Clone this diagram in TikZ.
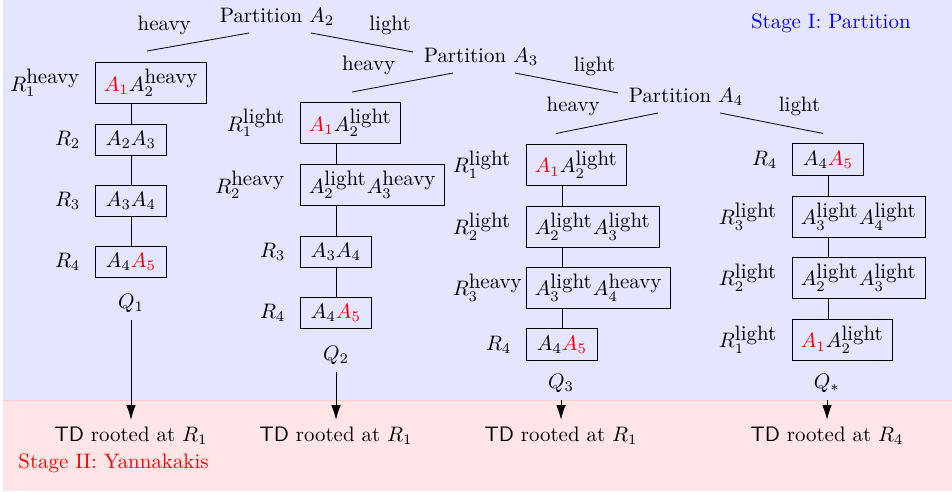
\documentclass[tikz,border=0pt]{standalone}
\usepackage{amsmath}
\usetikzlibrary{positioning,arrows.meta}
\newcommand{\keyattr}[1]{{\color{red}#1}}
\newcommand{\hvy}{\smash[b]{\mbox{heavy}}}
\newcommand{\lgt}{\smash[b]{\mbox{light}}}

\begin{document}
\begin{tikzpicture}[x=0.478pt,y=-0.478pt,node distance=3.5pt,
    rel/.style={draw,anchor=west,inner xsep=4pt,inner ysep=3.3pt,minimum width=34pt},
    stage/.style={font=\normalsize},
    toyan/.style={-{Latex[length=7pt,width=4.5pt]}}]
    \useasboundingbox (0,0) rectangle (952,491);
    \fill[blue!10] (3,0) rectangle (952,400);
    \fill[red!10] (3,400) rectangle (952,491);
    \draw[red!20] (3,400) -- (952,400);

    % partition tree
    \node (p2) at (277,17) {Partition $A_2$};
    \node (p3) at (481,57) {Partition $A_3$};
    \node (p4) at (686,97) {Partition $A_4$};

    % heavy A_2
    \node[rel] (b11) at (95,83) {$\keyattr{A_1}A_2^{\hvy}$};
    \node[rel] (b12) at (95,140) {$A_2A_3$};
    \node[rel] (b13) at (95,201) {$A_3A_4$};
    \node[rel] (b14) at (95,262) {$A_4\keyattr{A_5}$};
    \node[left=of b11] (r11) {$R_1^{\hvy}$};
    \node[left=of b12] (r12) {$R_2$};
    \node[left=of b13] (r13) {$R_3$};
    \node[left=of b14] (r14) {$R_4$};

    % light A_2, heavy A_3
    \node[rel] (b21) at (300,123) {$\keyattr{A_1}A_2^{\lgt}$};
    \node[rel] (b22) at (300,185) {$A_2^{\lgt}A_3^{\hvy}$};
    \node[rel] (b23) at (300,252) {$A_3A_4$};
    \node[rel] (b24) at (300,313) {$A_4\keyattr{A_5}$};
    \node[left=of b21] (r21) {$R_1^{\lgt}$};
    \node[left=of b22] (r22) {$R_2^{\hvy}$};
    \node[left=of b23] (r23) {$R_3$};
    \node[left=of b24] (r24) {$R_4$};

    % light A_2, A_3, heavy A_4
    \node[rel] (b31) at (526,164.5) {$\keyattr{A_1}A_2^{\lgt}$};
    \node[rel] (b32) at (526,226.5) {$A_2^{\lgt}A_3^{\lgt}$};
    \node[rel] (b33) at (526,287.5) {$A_3^{\lgt}A_4^{\hvy}$};
    \node[rel] (b34) at (526,344.5) {$A_4\keyattr{A_5}$};
    \node[left=of b31] (r31) {$R_1^{\lgt}$};
    \node[left=of b32] (r32) {$R_2^{\lgt}$};
    \node[left=-2pt of b33] (r33) {$R_3^{\hvy}$};
    \node[left=of b34] (r34) {$R_4$};

    % all light
    \node[rel] (b41) at (792,159.5) {$A_4\keyattr{A_5}$};
    \node[rel] (b42) at (792,216.5) {$A_3^{\lgt}A_4^{\lgt}$};
    \node[rel] (b43) at (792,277.5) {$A_2^{\lgt}A_3^{\lgt}$};
    \node[rel] (b44) at (792,339.5) {$\keyattr{A_1}A_2^{\lgt}$};
    \node[left=of b41] (r41) {$R_4$};
    \node[left=of b42] (r42) {$R_3^{\lgt}$};
    \node[left=of b43] (r43) {$R_2^{\lgt}$};
    \node[left=of b44] (r44) {$R_1^{\lgt}$};

    \foreach \c in {1,...,4}
        \foreach \r/\s in {1/2,2/3,3/4}
            \draw ([shift={(36,0)}]b\c\r.south west) -- ([shift={(36,0)}]b\c\s.north west);

    \draw ([shift={(-28,16)}]p2.center) -- node[above left] {heavy} ([shift={(52,-11)}]b11.north west);
    \draw ([shift={(34,16)}]p2.center) -- node[above right] {light} ([shift={(-68,-5)}]p3.center);
    \draw ([shift={(-28,16)}]p3.center) -- node[above left] {heavy} ([shift={(52,-10)}]b21.north west);
    \draw ([shift={(34,16)}]p3.center) -- node[above right] {light} ([shift={(-68,-4)}]p4.center);
    \draw ([shift={(-28,16)}]p4.center) -- node[above left] {heavy} ([shift={(30,-10)}]b31.north west);
    \draw ([shift={(34,16)}]p4.center) -- node[above right] {light} ([shift={(31,-10)}]b41.north west);

    % queries and stage II
    \node (q1) at (131,303) {$Q_1$};
    \node (q2) at (336,355) {$Q_2$};
    \node (q3) at (561,383) {$Q_3$};
    \node (q4) at (827,383) {$Q_*$};
    \node (t1) at (131,436) {\textsf{TD} rooted at $R_1$};
    \node (t2) at (336,436) {\textsf{TD} rooted at $R_1$};
    \node (t3) at (561,436) {\textsf{TD} rooted at $R_1$};
    \node (t4) at (827,436) {\textsf{TD} rooted at $R_4$};
    \foreach \i in {1,...,4}
        \draw[toyan] (q\i) -- (t\i);

    \node[stage,text=blue,anchor=east] (s1) at (918,23) {Stage I: Partition};
    \node[stage,text=red,anchor=west] (s2) at (11,463) {Stage II: Yannakakis};
\end{tikzpicture}
\end{document}
